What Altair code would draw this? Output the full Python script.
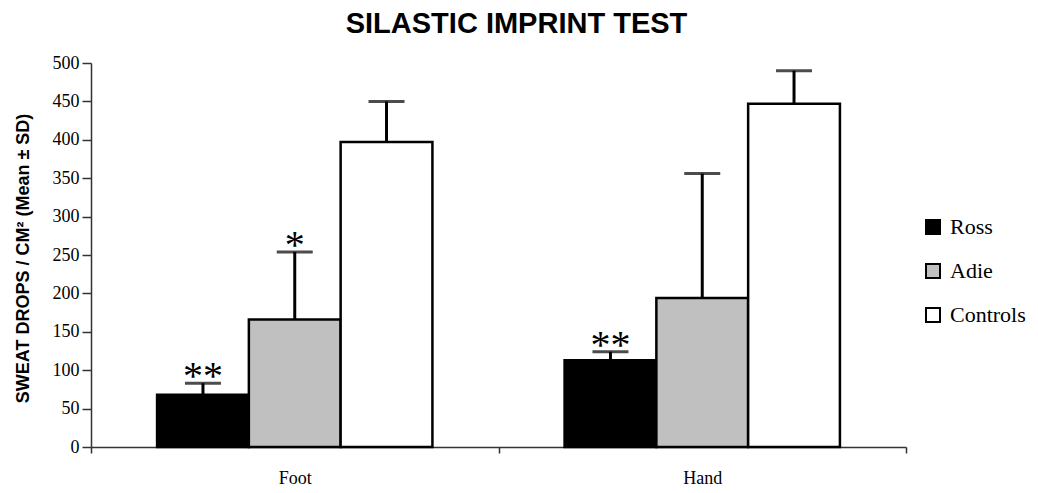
import altair as alt
import pandas as pd

categories = ["Foot", "Hand"]
groups = ["Ross", "Adie", "Controls"]
foot_mean = [68, 166, 397]
foot_sd = [15, 88, 53]
hand_mean = [113, 194, 447]
hand_sd = [11, 162, 43]
foot_stars = ["**", "*", ""]
hand_stars = ["**", "", ""]
colors = ["#000000", "#c0c0c0", "#ffffff"]
y_ticks = list(range(0, 501, 50))

rows = []
for cat, means, sds, stars in [("Foot", foot_mean, foot_sd, foot_stars),
                               ("Hand", hand_mean, hand_sd, hand_stars)]:
    for g, m, s, st in zip(groups, means, sds, stars):
        rows.append({"category": cat, "group": g, "mean": m, "upper": m + s, "star": st})
df = pd.DataFrame(rows)

x_axis = alt.Axis(title=None, labelAngle=0, labelFont="Liberation Serif",
                  labelFontSize=18, labelColor="black", tickBand="extent",
                  tickSize=6, labelPadding=16, domainColor="#333",
                  tickColor="#333", domainWidth=1.5, tickWidth=1.5)
y_axis = alt.Axis(values=y_ticks, title="SWEAT DROPS / CM² (Mean ± SD)",
                  titleFont="Liberation Sans", titleFontWeight="bold",
                  titleFontSize=18, titleColor="black", titleX=-59, titleY=195,
                  titleAngle=270, titleAlign="center", titleBaseline="bottom",
                  labelFont="Liberation Serif", labelFontSize=18,
                  labelColor="black", tickSize=9, tickColor="#333",
                  domainColor="#333", labelPadding=3, grid=False,
                  labelOverlap=False, tickWidth=1.5, domainWidth=1.5)

x_enc = alt.X("category:N", sort=categories,
              scale=alt.Scale(paddingInner=0, paddingOuter=0), axis=x_axis)
xo_enc = alt.XOffset("group:N", sort=groups,
                     scale=alt.Scale(paddingInner=0, paddingOuter=0.72))
y_scale = alt.Scale(domain=[0, 500])

base = alt.Chart(df)

bars = base.mark_bar(stroke="black", strokeWidth=2.5).encode(
    x=x_enc,
    xOffset=xo_enc,
    y=alt.Y("mean:Q", scale=y_scale, axis=y_axis),
    color=alt.Color("group:N", sort=groups,
                    scale=alt.Scale(domain=groups, range=colors),
                    legend=alt.Legend(title=None, orient="none", legendX=831, legendY=153,
                                      symbolType="square", symbolSize=196,
                                      symbolStrokeColor="black", symbolStrokeWidth=2,
                                      labelFont="Liberation Serif", labelFontSize=22,
                                      labelColor="black", rowPadding=22, labelOffset=6,
                                      padding=0, labelLimit=200)),
)

err = base.mark_rule(color="black", strokeWidth=3).encode(
    x=alt.X("category:N", sort=categories, axis=x_axis),
    xOffset=alt.XOffset("group:N", sort=groups),
    y=alt.Y("mean:Q", scale=y_scale, axis=y_axis),
    y2="upper:Q",
)

caps = base.mark_tick(color="black", size=36, thickness=3).encode(
    x=alt.X("category:N", sort=categories, axis=x_axis),
    xOffset=alt.XOffset("group:N", sort=groups),
    y=alt.Y("upper:Q", scale=y_scale, axis=y_axis),
)

stars_layer = base.mark_text(font="Liberation Serif", fontSize=40, baseline="alphabetic",
                             dy=6, color="black").encode(
    x=alt.X("category:N", sort=categories, axis=x_axis),
    xOffset=alt.XOffset("group:N", sort=groups),
    y=alt.Y("upper:Q", scale=y_scale, axis=y_axis),
    text="star:N",
)

chart = alt.layer(bars, err, caps, stars_layer).properties(
    width=815, height=384,
    autosize=alt.AutoSizeParams(type="none"),
    padding={"left": 83, "top": 55, "right": 124, "bottom": 46},
    title=alt.TitleParams("SILASTIC IMPRINT TEST", font="Liberation Sans", fontSize=29,
                          fontWeight="bold", color="black", anchor="middle", dx=18,
                          offset=6),
).configure_view(stroke=None)

chart.save("out.html", embed_options={"renderer": "svg", "actions": False})
